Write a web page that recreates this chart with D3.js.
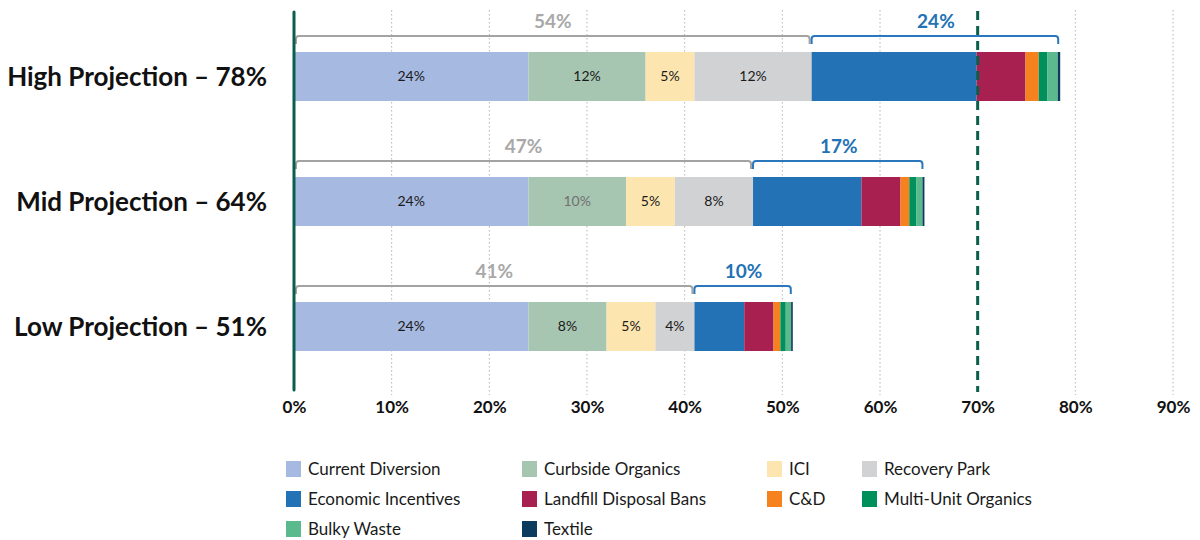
<!DOCTYPE html>
<html>
<head>
<meta charset="utf-8">
<script src="https://cdn.jsdelivr.net/npm/d3@7"></script>
<style>
  body { margin: 0; background: #fff; }
  text { font-family: Lato, "Open Sans", sans-serif; }
</style>
</head>
<body>
<div id="chart"></div>
<script>
// projections, top to bottom
const categories = ["High Projection – 78%", "Mid Projection – 64%", "Low Projection – 51%"]

const seriesNames = ["Current Diversion", "Curbside Organics", "ICI", "Recovery Park",
  "Economic Incentives", "Landfill Disposal Bans", "C&D", "Multi-Unit Organics",
  "Bulky Waste", "Textile"]

const currentDiversion = [24, 24, 24]
const curbsideOrganics = [12, 10, 8]
const ici = [5, 5, 5]
const recoveryPark = [12, 8, 4]
const economicIncentives = [16.9, 11.1, 5.1]
const landfillBans = [5.0, 4.0, 3.0]
const cAndD = [1.35, 0.9, 0.7]
const multiUnit = [0.9, 0.7, 0.55]
const bulkyWaste = [1.05, 0.65, 0.55]
const textile = [0.25, 0.2, 0.17]

const existingLabels = ["54%", "47%", "41%"]
const additionalLabels = ["24%", "17%", "10%"]
const ticks = [0, 10, 20, 30, 40, 50, 60, 70, 80, 90]
const target = 70

const colors = ["#a6b9e0", "#a7c6b2", "#fde5b0", "#d1d2d4", "#2272b5",
  "#a72050", "#f6821f", "#00905c", "#5bb98e", "#0b3c5d"]
const axisGreen = "#0a5e4c"

const values = [currentDiversion, curbsideOrganics, ici, recoveryPark, economicIncentives,
  landfillBans, cAndD, multiUnit, bulkyWaste, textile]

const rows = categories.map((c, i) => {
  const r = { cat: c }
  seriesNames.forEach((s, j) => r[s] = values[j][i])
  return r
})

const width = 1200, height = 540

const svg = d3.select("#chart").append("svg")
  .attr("width", width)
  .attr("height", height)

const x = d3.scaleLinear().domain([0, 90]).range([294, 1173])
const y = d3.scaleBand().domain(categories).range([14, 389])
  .paddingInner(0.608).paddingOuter(0.304)

// dotted gridlines
svg.selectAll(".grid")
  .data(ticks.filter(t => t > 0 && t !== target))
  .enter().append("line")
  .attr("x1", d => x(d)).attr("x2", d => x(d))
  .attr("y1", 10).attr("y2", 395)
  .attr("stroke", "#b5b5b5")
  .attr("stroke-width", 1)
  .attr("stroke-dasharray", "1.5,2.5")

const stacked = d3.stack().keys(seriesNames)(rows)

const layers = svg.selectAll(".layer")
  .data(stacked)
  .enter().append("g")
  .attr("fill", (d, i) => colors[i])

layers.selectAll("rect")
  .data(d => d)
  .enter().append("rect")
  .attr("x", d => x(d[0]))
  .attr("y", d => y(d.data.cat))
  .attr("width", d => x(d[1]) - x(d[0]))
  .attr("height", y.bandwidth())

// value labels on the first four segments
stacked.slice(0, 4).forEach((layer, li) => {
  svg.selectAll(".seg" + li)
    .data(layer)
    .enter().append("text")
    .attr("x", d => (x(d[0]) + x(d[1])) / 2)
    .attr("y", d => y(d.data.cat) + y.bandwidth() / 2)
    .attr("dy", "0.35em")
    .attr("text-anchor", "middle")
    .style("font-size", "14px")
    .attr("fill", (d, i) => (li === 1 && i === 1) ? "#707070" : "#1a1a1a")
    .text(d => Math.round(d[1] - d[0]) + "%")
})

// brackets
function bracket(x0, x1, yb) {
  return `M${x0},${yb + 8} L${x0},${yb + 3} Q${x0},${yb} ${x0 + 3},${yb} L${x1 - 3},${yb} Q${x1},${yb} ${x1},${yb + 3} L${x1},${yb + 8}`
}

rows.forEach((r, i) => {
  const s1 = stacked[3][i][1]
  const tot = stacked[stacked.length - 1][i][1]
  const yb = y(r.cat) - 16
  svg.append("path")
    .attr("d", bracket(x(0) + 2, x(s1) - 2, yb))
    .attr("fill", "none").attr("stroke", "#a3a3a3").attr("stroke-width", 2)
  svg.append("text")
    .attr("x", (x(0) + x(s1)) / 2).attr("y", yb - 8)
    .attr("text-anchor", "middle")
    .style("font-size", "19px").style("font-weight", "bold")
    .attr("fill", "#a8a8a8")
    .text(existingLabels[i])
  svg.append("path")
    .attr("d", bracket(x(s1), x(tot) - 2, yb))
    .attr("fill", "none").attr("stroke", "#2a77bb").attr("stroke-width", 2)
  svg.append("text")
    .attr("x", (x(s1) + x(tot)) / 2).attr("y", yb - 8)
    .attr("text-anchor", "middle")
    .style("font-size", "19px").style("font-weight", "bold")
    .attr("fill", "#2272b5")
    .text(additionalLabels[i])
})

// 70% target line
svg.append("line")
  .attr("x1", x(target)).attr("x2", x(target))
  .attr("y1", 11).attr("y2", 392)
  .attr("stroke", axisGreen).attr("stroke-width", 3)
  .attr("stroke-dasharray", "9,6")

// baseline axis
svg.append("line")
  .attr("x1", x(0)).attr("x2", x(0))
  .attr("y1", 12).attr("y2", 390)
  .attr("stroke", axisGreen).attr("stroke-width", 3)
  .attr("stroke-linecap", "round")

// tick labels
const xAxis = svg.append("g")
  .attr("transform", "translate(0,398)")
  .call(d3.axisBottom(x).tickValues(ticks).tickFormat(d => d + "%").tickSize(0))
xAxis.select(".domain").remove()
xAxis.selectAll("text")
  .style("font-family", "Lato, sans-serif")
  .style("font-size", "17px").style("font-weight", "bold").attr("fill", "#111")

// category labels
svg.selectAll(".cat")
  .data(categories)
  .enter().append("text")
  .attr("x", 267)
  .attr("y", d => y(d) + y.bandwidth() / 2)
  .attr("dy", "0.35em")
  .attr("text-anchor", "end")
  .style("font-size", "26px").style("font-weight", "bold")
  .attr("fill", "#111")
  .text(d => d)

// legend
const legendCols = [286, 522, 767, 862]
const legendRows = [469, 499, 529]
const legendLayout = [[0, 0], [1, 0], [2, 0], [3, 0], [0, 1], [1, 1], [2, 1], [3, 1], [0, 2], [1, 2]]

const legend = svg.selectAll(".legend")
  .data(seriesNames)
  .enter().append("g")
  .attr("transform", (d, i) => "translate(" + legendCols[legendLayout[i][0]] + "," + legendRows[legendLayout[i][1]] + ")")

legend.append("rect")
  .attr("x", 0).attr("y", -8)
  .attr("width", 15).attr("height", 16)
  .attr("fill", (d, i) => colors[i])

legend.append("text")
  .attr("x", 22).attr("dy", "0.35em")
  .style("font-size", "17px")
  .attr("fill", "#1a1a1a")
  .text(d => d)
</script>
</body>
</html>
